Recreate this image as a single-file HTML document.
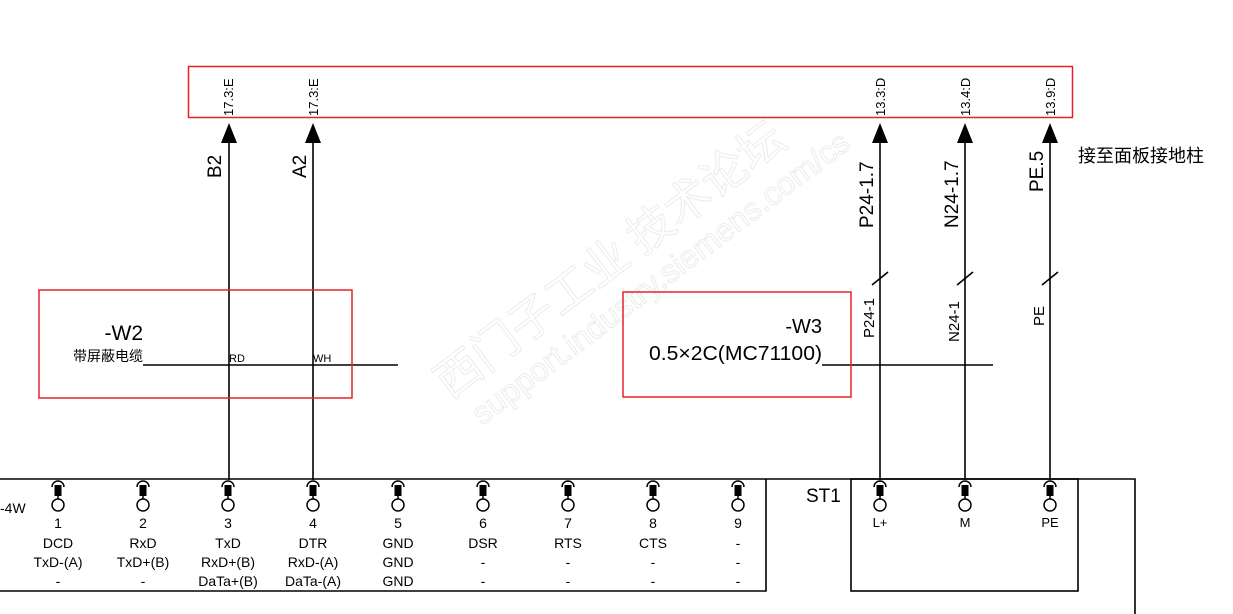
<!DOCTYPE html>
<html><head><meta charset="utf-8"><style>
html,body{margin:0;padding:0;background:#fff;}
svg{display:block;font-family:"Liberation Sans","Noto Sans CJK SC",sans-serif;}
</style></head><body>
<svg width="1233" height="614" viewBox="0 0 1233 614" xmlns="http://www.w3.org/2000/svg">
<defs>
<g id="term">
 <path d="M-6,487 A6,6 0 0 1 6,487" fill="none" stroke="#000" stroke-width="1.5"/>
 <rect x="-3.5" y="485" width="7" height="11" fill="#000"/>
 <line x1="0" y1="496" x2="0" y2="499" stroke="#000" stroke-width="1.5"/>
 <circle cx="0" cy="505" r="6" fill="#fff" stroke="#000" stroke-width="1.5"/>
</g>
</defs>
<g transform="translate(450,400) rotate(-37)" fill="none" stroke="#ececec" stroke-width="1">
 <text x="0" y="0" font-size="46" font-family="Noto Sans CJK SC,sans-serif">西门子工业 技术论坛</text>
 <text x="10" y="40" font-size="32">support.industry.siemens.com/cs</text>
</g>
<rect x="188.5" y="66.5" width="884" height="51" fill="none" stroke="#e8202a" stroke-width="1.5"/>
<g font-size="13" fill="#000">
 <text transform="translate(233,116) rotate(-90)">17.3:E</text>
 <text transform="translate(318,116) rotate(-90)">17.3:E</text>
 <text transform="translate(885,116) rotate(-90)">13.3:D</text>
 <text transform="translate(970,116) rotate(-90)">13.4:D</text>
 <text transform="translate(1055,116) rotate(-90)">13.9:D</text>
</g>
<g stroke="#000" stroke-width="1.6">
 <line x1="229" y1="135" x2="229" y2="480"/>
 <line x1="313" y1="135" x2="313" y2="480"/>
 <line x1="880" y1="135" x2="880" y2="480"/>
 <line x1="965" y1="135" x2="965" y2="480"/>
 <line x1="1050" y1="135" x2="1050" y2="480"/>
 <line x1="872" y1="285" x2="888" y2="272"/>
 <line x1="957" y1="285" x2="973" y2="272"/>
 <line x1="1042" y1="285" x2="1058" y2="272"/>
 <line x1="143" y1="365" x2="398" y2="365"/>
 <line x1="822" y1="365" x2="993" y2="365"/>
</g>
<g fill="#000">
 <polygon points="229,123 221,143 237,143"/>
 <polygon points="313,123 305,143 321,143"/>
 <polygon points="880,123 872,143 888,143"/>
 <polygon points="965,123 957,143 973,143"/>
 <polygon points="1050,123 1042,143 1058,143"/>
</g>
<g font-size="19" fill="#000">
 <text transform="translate(221,178) rotate(-90)">B2</text>
 <text transform="translate(306,178) rotate(-90)">A2</text>
 <text transform="translate(873,228) rotate(-90)">P24-1.7</text>
 <text transform="translate(958,228) rotate(-90)">N24-1.7</text>
 <text transform="translate(1043,192) rotate(-90)">PE.5</text>
</g>
<g font-size="15" fill="#000">
 <text transform="translate(874,338) rotate(-90)">P24-1</text>
 <text transform="translate(959,342) rotate(-90)">N24-1</text>
 <text transform="translate(1044,326) rotate(-90)">PE</text>
</g>
<text x="1078" y="162" font-size="18" fill="#000">接至面板接地柱</text>
<rect x="39" y="290" width="313" height="108" fill="none" stroke="#e8202a" stroke-width="1.5"/>
<text x="143" y="340" font-size="21" text-anchor="end">-W2</text>
<text x="143" y="361" font-size="14" text-anchor="end">带屏蔽电缆</text>
<text x="229" y="362" font-size="11">RD</text>
<text x="313" y="362" font-size="11">WH</text>
<rect x="623" y="292" width="228" height="105" fill="none" stroke="#e8202a" stroke-width="1.5"/>
<text x="822" y="333" font-size="20" text-anchor="end">-W3</text>
<text x="822" y="360" font-size="20" text-anchor="end" textLength="173" lengthAdjust="spacingAndGlyphs">0.5×2C(MC71100)</text>
<g stroke="#000" stroke-width="1.6" fill="none">
 <polyline points="0,479 1135,479 1135,614"/>
 <polyline points="766,479 766,591 0,591"/>
 <rect x="851" y="479" width="227" height="112"/>
</g>
<text x="0" y="513" font-size="14">-4W</text>
<text x="806" y="502" font-size="19">ST1</text>
<g>
 <use href="#term" x="58"/><use href="#term" x="143"/><use href="#term" x="228"/>
 <use href="#term" x="313"/><use href="#term" x="398"/><use href="#term" x="483"/>
 <use href="#term" x="568"/><use href="#term" x="653"/><use href="#term" x="738"/>
 <use href="#term" x="880"/><use href="#term" x="965"/><use href="#term" x="1050"/>
</g>
<g font-size="14" text-anchor="middle" fill="#000">
 <text x="58" y="528">1</text><text x="143" y="528">2</text><text x="228" y="528">3</text>
 <text x="313" y="528">4</text><text x="398" y="528">5</text><text x="483" y="528">6</text>
 <text x="568" y="528">7</text><text x="653" y="528">8</text><text x="738" y="528">9</text>
 <text x="58" y="548">DCD</text><text x="143" y="548">RxD</text><text x="228" y="548">TxD</text>
 <text x="313" y="548">DTR</text><text x="398" y="548">GND</text><text x="483" y="548">DSR</text>
 <text x="568" y="548">RTS</text><text x="653" y="548">CTS</text><text x="738" y="548">-</text>
 <text x="58" y="567">TxD-(A)</text><text x="143" y="567">TxD+(B)</text><text x="228" y="567">RxD+(B)</text>
 <text x="313" y="567">RxD-(A)</text><text x="398" y="567">GND</text><text x="483" y="567">-</text>
 <text x="568" y="567">-</text><text x="653" y="567">-</text><text x="738" y="567">-</text>
 <text x="58" y="586">-</text><text x="143" y="586">-</text><text x="228" y="586">DaTa+(B)</text>
 <text x="313" y="586">DaTa-(A)</text><text x="398" y="586">GND</text><text x="483" y="586">-</text>
 <text x="568" y="586">-</text><text x="653" y="586">-</text><text x="738" y="586">-</text>
</g>
<g font-size="13" text-anchor="middle">
 <text x="880" y="527">L+</text><text x="965" y="527">M</text><text x="1050" y="527">PE</text>
</g>
</svg>
</body></html>
